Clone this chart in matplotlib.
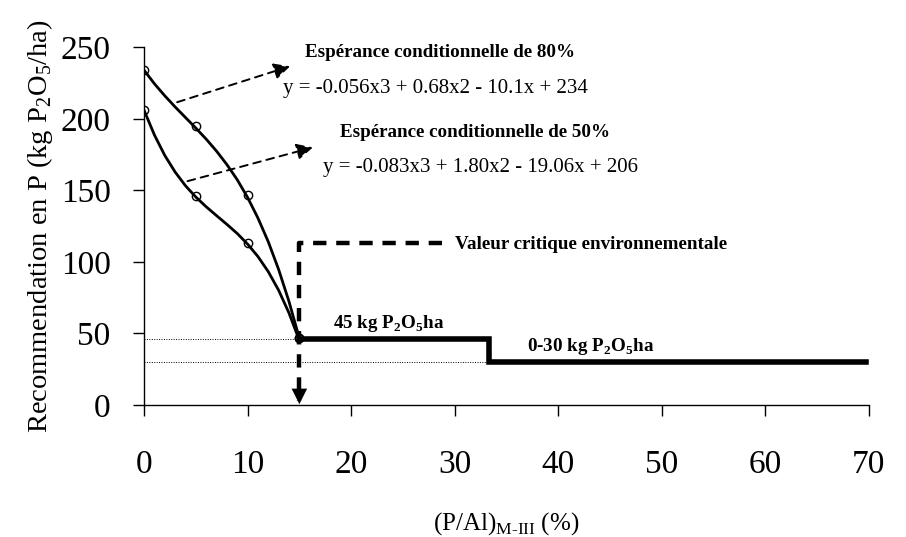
import matplotlib.pyplot as plt
import numpy as np

plt.rcParams['font.family'] = ['Liberation Serif', 'DejaVu Serif']
plt.rcParams['mathtext.fontset'] = 'custom'
plt.rcParams['mathtext.rm'] = 'Liberation Serif'
plt.rcParams['mathtext.bf'] = 'Liberation Serif:bold'

# curve readings (P/Al %, recommendation kg P2O5/ha)
x_curve = [0, 1, 2, 3, 4, 5, 6, 7, 8, 9, 10, 11, 12, 13, 14, 15]
y_80 = [234, 224.5, 216.1, 208.3, 200.9, 193.5, 185.8, 177.4, 168.0, 157.4,
        145.0, 130.6, 114.0, 94.6, 72.2, 46.5]
y_50 = [206, 188.7, 174.4, 162.8, 153.2, 145.3, 138.5, 132.3, 126.2, 119.8,
        112.4, 103.7, 93.1, 80.1, 64.2, 45.0]

# observed points (markers)
x_pts = [0, 5, 10, 15]
y_pts_80 = [234, 195, 147, 47]
y_pts_50 = [206, 146, 113, 47]

# recommendation steps
step_x = [15, 33.3, 33.3, 69.7]
step_y = [46, 46, 30, 30]

# environmental critical value
crit_x = [28.8, 15, 15]
crit_y = [113, 113, 3]

bold_size = 13.7
eq_size = 15

fig = plt.figure(figsize=(9.06, 5.37), dpi=100)
ax = fig.add_axes([0.159, 0.246, 0.8, 0.666])

ax.plot(x_curve, y_80, color='k', lw=2.0, zorder=3)
ax.plot(x_curve, y_50, color='k', lw=2.0, zorder=3)
ax.plot(x_pts, y_pts_80, 'o', mfc='none', mec='k', ms=6, mew=1.0, zorder=4)
ax.plot(x_pts, y_pts_50, 'o', mfc='none', mec='k', ms=6, mew=1.0, zorder=4)

# dotted guide lines
ax.plot([0, 15], [46, 46], color='k', lw=0.7, ls=(0, (1, 1.5)))
ax.plot([0, 33.3], [30, 30], color='k', lw=0.7, ls=(0, (1, 1.5)))

ax.plot(step_x, step_y, color='k', lw=4, solid_joinstyle='miter', zorder=3)

# critical value dashed line with arrow
ax.plot(crit_x, crit_y, color='k', lw=3.2, ls=(0, (3, 2.2)), zorder=3)
ax.annotate('', xy=(15, 0.5), xytext=(15, 14),
            arrowprops=dict(arrowstyle='-|>', color='k', lw=0,
                            mutation_scale=28, shrinkA=0, shrinkB=0))

# dashed arrows to the equations
for (x0, y0), (x1, y1) in [((3.2, 211.6), (14.1, 236.7)),
                           ((4.2, 156.4), (16.3, 180))]:
    ax.annotate('', xy=(x1, y1), xytext=(x0, y0),
                arrowprops=dict(arrowstyle='-|>', color='k', lw=1.4,
                                ls=(0, (4, 3)), mutation_scale=24,
                                shrinkA=0, shrinkB=0))

ax.text(15.5, 246.5, 'Espérance conditionnelle de 80%', fontsize=bold_size,
        fontweight='bold', va='center')
ax.text(13.4, 221, 'y = -0.056x3 + 0.68x2 - 10.1x + 234', fontsize=eq_size,
        va='center')
ax.text(18.9, 190.6, 'Espérance conditionnelle de 50%', fontsize=bold_size,
        fontweight='bold', va='center')
ax.text(17.3, 166, 'y = -0.083x3 + 1.80x2 - 19.06x + 206', fontsize=eq_size,
        va='center')
ax.text(30.0, 112, 'Valeur critique environnementale', fontsize=bold_size,
        fontweight='bold', va='center')
ax.text(18.2, 57, r'45 kg P$_\mathbf{2}$O$_\mathbf{5}$ha', fontsize=bold_size,
        fontweight='bold', va='center')
ax.text(37.0, 40.5, r'0-30 kg P$_\mathbf{2}$O$_\mathbf{5}$ha', fontsize=bold_size,
        fontweight='bold', va='center')

ax.set_xlim(0, 70)
ax.set_ylim(0, 250)
ax.set_xticks(np.arange(0, 71, 10))
ax.set_yticks(np.arange(0, 251, 50))
ax.tick_params(axis='both', direction='out', length=8, width=1, labelsize=24)
ax.tick_params(axis='x', pad=24)
ax.tick_params(axis='y', pad=16)
for s in ['top', 'right']:
    ax.spines[s].set_visible(False)
ax.spines['left'].set_linewidth(1)
ax.spines['bottom'].set_linewidth(1)

ax.set_ylabel('Recommendation en P (kg P$_2$O$_5$/ha)', fontsize=20.5, labelpad=4)
ax.set_xlabel(r'(P/Al)$_{\text{M-III}}$ (%)', fontsize=18, labelpad=22)

fig.savefig('out.png', dpi=100)
